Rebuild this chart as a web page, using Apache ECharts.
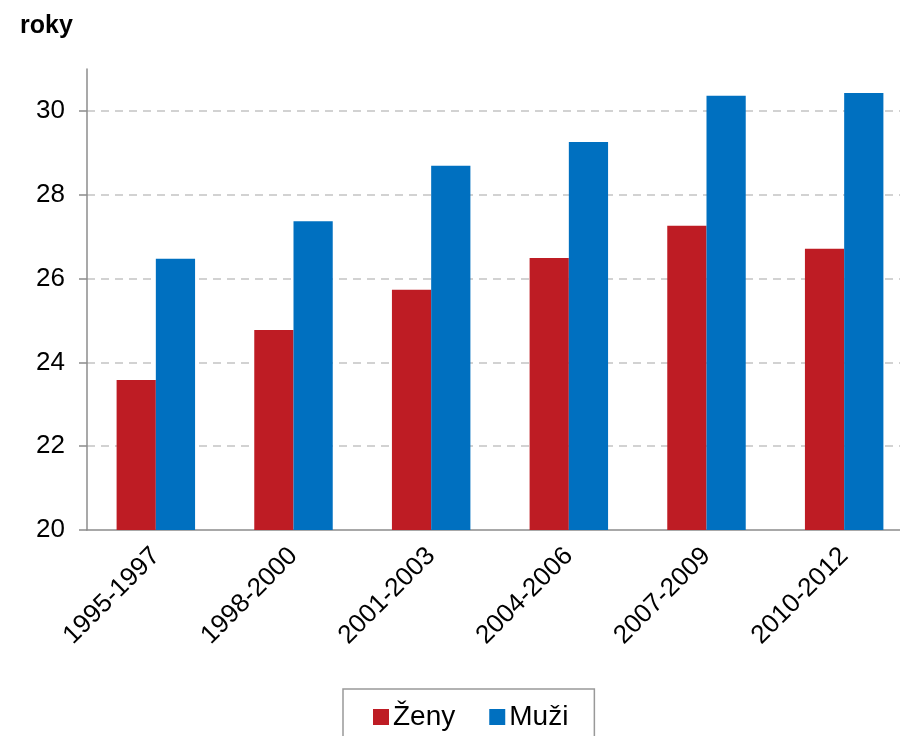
<!DOCTYPE html>
<html>
<head>
<meta charset="utf-8">
<script src="https://cdn.jsdelivr.net/npm/echarts@6/dist/echarts.min.js"></script>
<style>
  html, body { margin: 0; padding: 0; background: #fff; }
  #chart { width: 900px; height: 736px; }
</style>
</head>
<body>
<div id="chart"></div>
<script>
// období
const periods = ['1995-1997', '1998-2000', '2001-2003', '2004-2006', '2007-2009', '2010-2012'];
// průměrný věk (roky)
const zeny = [23.58, 24.77, 25.73, 26.49, 27.26, 26.71];
const muzi = [26.47, 27.37, 28.69, 29.26, 30.36, 30.43];
const yTicks = [20, 22, 24, 26, 28, 30];

const font = 'Arial, "Liberation Sans", sans-serif';
const axisGray = '#8c8c8c';

const myChart = echarts.init(document.getElementById('chart'));
myChart.setOption({
  animation: false,
  textStyle: { fontFamily: font },
  title: {
    text: 'roky',
    left: 15,
    top: 9,
    textStyle: { fontSize: 25, fontWeight: 'bold', color: '#000', fontFamily: font }
  },
  legend: {
    left: 343,
    top: 689,
    padding: [14, 26, 30, 30],
    itemGap: 34,
    itemWidth: 16,
    itemHeight: 16,
    selectedMode: false,
    borderColor: '#999',
    borderWidth: 1.5,
    icon: 'rect',
    textStyle: { fontSize: 28, color: '#000', fontFamily: font, padding: [0, 0, 0, -1] },
    data: ['Ženy', 'Muži']
  },
  grid: {
    left: 87,
    right: -13,
    top: 69,
    bottom: 206,
    outerBoundsMode: 'none',
    containLabel: false
  },
  xAxis: {
    type: 'category',
    data: periods,
    axisLine: { lineStyle: { color: axisGray, width: 1.5 } },
    axisTick: { length: 7, lineStyle: { color: axisGray, width: 1.5 } },
    axisLabel: {
      rotate: 45,
      margin: 22,
      fontSize: 26,
      color: '#000',
      fontFamily: font
    }
  },
  yAxis: {
    type: 'value',
    min: 20,
    max: 31,
    interval: 2,
    axisLine: { show: true, lineStyle: { color: axisGray, width: 1.5 } },
    axisTick: {
      show: true,
      length: 8,
      customValues: yTicks,
      lineStyle: { color: axisGray, width: 1.5 }
    },
    axisLabel: {
      customValues: yTicks,
      margin: 22,
      fontSize: 26,
      color: '#000',
      fontFamily: font
    },
    splitLine: {
      show: true,
      showMinLine: false,
      lineStyle: { color: '#c4c4c4', type: [8, 6], width: 1.5 }
    }
  },
  series: [
    {
      name: 'Ženy',
      type: 'bar',
      data: zeny,
      barGap: '0%',
      barCategoryGap: '43%',
      itemStyle: { color: '#BE1C24' }
    },
    {
      name: 'Muži',
      type: 'bar',
      data: muzi,
      itemStyle: { color: '#0070C0' }
    }
  ]
});
</script>
</body>
</html>
